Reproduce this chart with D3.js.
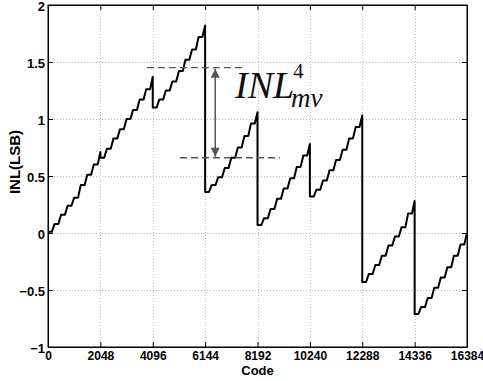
<!DOCTYPE html>
<html>
<head>
<meta charset="utf-8">
<script src="https://cdn.jsdelivr.net/npm/d3@7"></script>
<style>
  body { margin: 0; background: #fff; }
  svg { display: block; }
</style>
</head>
<body>
<div id="chart"></div>
<script>
// x ticks (codes) and y ticks (LSB)
const xTicks = [0, 2048, 4096, 6144, 8192, 10240, 12288, 14336, 16384];
const yTicks = [-1, -0.5, 0, 0.5, 1, 1.5, 2];

// each 2048-code segment: start code + 9 step levels
const segStarts = [0, 2048, 4096, 6144, 8192, 10240, 12288, 14336];
const stepLevels = [
  [0.01, 0.08, 0.16, 0.24, 0.31, 0.42, 0.51, 0.60, 0.71],
  [0.66, 0.74, 0.83, 0.91, 1.00, 1.08, 1.17, 1.26, 1.37],
  [1.10, 1.17, 1.25, 1.33, 1.42, 1.52, 1.61, 1.72, 1.82],
  [0.36, 0.42, 0.49, 0.57, 0.66, 0.75, 0.85, 0.96, 1.06],
  [0.07, 0.13, 0.21, 0.30, 0.39, 0.48, 0.58, 0.68, 0.78],
  [0.32, 0.38, 0.46, 0.55, 0.64, 0.73, 0.83, 0.93, 1.03],
  [-0.43, -0.36, -0.28, -0.20, -0.11, -0.03, 0.05, 0.17, 0.28],
  [-0.71, -0.65, -0.57, -0.48, -0.39, -0.30, -0.20, -0.10, 0.00]
];
const stepCodes = 256;

// annotation (data units)
const upperRef = { from: 3865, to: 7620, value: 1.45 };
const lowerRef = { from: 5160, to: 9070, value: 0.66 };
const arrowCode = 6540;

const width = 483, height = 381;
const margin = {top: 5, right: 16, bottom: 34, left: 48};

const svg = d3.select('#chart').append('svg')
    .attr('width', width)
    .attr('height', height);

const x = d3.scaleLinear()
  .domain([0, 16384])
  .range([margin.left, width - margin.right]);

const y = d3.scaleLinear()
  .domain([-1, 2])
  .range([height - margin.bottom, margin.top]);

const font = '"Liberation Sans", Arial, sans-serif';

// grid
svg.append('g')
    .attr('stroke', '#b8b8b8')
    .attr('stroke-width', 1)
    .attr('stroke-dasharray', '1,2')
  .selectAll('line.gx')
  .data(xTicks.slice(1, -1))
  .join('line')
    .attr('x1', d => Math.round(x(d)) + 0.5)
    .attr('x2', d => Math.round(x(d)) + 0.5)
    .attr('y1', y(-1))
    .attr('y2', y(2));

svg.append('g')
    .attr('stroke', '#b8b8b8')
    .attr('stroke-width', 1)
    .attr('stroke-dasharray', '1,2')
  .selectAll('line')
  .data(yTicks.slice(1, -1))
  .join('line')
    .attr('x1', x(0))
    .attr('x2', x(16384))
    .attr('y1', d => Math.round(y(d)) + 0.5)
    .attr('y2', d => Math.round(y(d)) + 0.5);

// axes (ticks pointing inwards, on all four sides)
const xAxis = g => g
    .attr('transform', `translate(0,${y(-1)})`)
    .call(d3.axisBottom(x).tickValues(xTicks).tickSizeInner(-5).tickSizeOuter(0).tickPadding(4).tickFormat(d3.format('d')))
    .call(g => g.selectAll('text').attr('font-size', 12).attr('font-weight', 'bold').attr('font-family', font).attr('fill', '#000'));

const yAxis = g => g
    .attr('transform', `translate(${x(0)},0)`)
    .call(d3.axisLeft(y).tickValues(yTicks).tickSizeInner(-5).tickSizeOuter(0).tickPadding(3).tickFormat(d3.format('')))
    .call(g => g.selectAll('text').attr('font-size', 13).attr('font-weight', 'bold').attr('font-family', font).attr('fill', '#000').attr('dy', '0.45em'));

svg.append('g').call(xAxis);
svg.append('g').call(yAxis);

svg.append('g')
    .attr('transform', `translate(0,${y(2)})`)
    .call(d3.axisTop(x).tickValues(xTicks).tickSizeInner(-5).tickSizeOuter(0).tickFormat(''));
svg.append('g')
    .attr('transform', `translate(${x(16384)},0)`)
    .call(d3.axisRight(y).tickValues(yTicks).tickSizeInner(-5).tickSizeOuter(0).tickFormat(''));

svg.append('rect')
    .attr('x', x(0))
    .attr('y', y(2))
    .attr('width', x(16384) - x(0))
    .attr('height', y(-1) - y(2))
    .attr('fill', 'none')
    .attr('stroke', '#000')
    .attr('stroke-width', 1);

// axis titles
svg.append('text')
    .attr('x', (x(0) + x(16384)) / 2)
    .attr('y', 375)
    .attr('text-anchor', 'middle')
    .attr('font-family', font)
    .attr('font-weight', 'bold')
    .attr('font-size', 13)
    .text('Code');

svg.append('text')
    .attr('transform', 'translate(20,162) rotate(-90)')
    .attr('text-anchor', 'middle')
    .attr('font-family', font)
    .attr('font-weight', 'bold')
    .attr('font-size', 15)
    .text('INL(LSB)');

// staircase INL curve
const points = [];
segStarts.forEach((c0, s) => {
  const L = stepLevels[s];
  points.push([c0, L[0]]);
  for (let k = 0; k < 8; k++) {
    points.push([c0 + k * stepCodes + 150, L[k]]);
    points.push([c0 + (k + 1) * stepCodes, L[k + 1]]);
  }
});

const line = d3.line()
  .x(d => x(d[0]))
  .y(d => y(d[1]));

svg.append('path')
    .datum(points)
    .attr('fill', 'none')
    .attr('stroke', '#000')
    .attr('stroke-width', 2)
    .attr('stroke-linejoin', 'round')
    .attr('d', line);

// annotation
const grey = '#555';
[upperRef, lowerRef].forEach(r => {
  svg.append('line')
      .attr('x1', x(r.from))
      .attr('x2', x(r.to))
      .attr('y1', y(r.value))
      .attr('y2', y(r.value))
      .attr('stroke', grey)
      .attr('stroke-width', 1.3)
      .attr('stroke-dasharray', '7,4');
});

svg.append('defs').append('marker')
    .attr('id', 'head')
    .attr('viewBox', '0 0 10 10')
    .attr('refX', 10)
    .attr('refY', 5)
    .attr('markerUnits', 'userSpaceOnUse')
    .attr('markerWidth', 10)
    .attr('markerHeight', 9)
    .attr('orient', 'auto-start-reverse')
  .append('path')
    .attr('d', 'M0,0 L10,5 L0,10 Z')
    .attr('fill', grey);

svg.append('line')
    .attr('x1', x(arrowCode))
    .attr('x2', x(arrowCode))
    .attr('y1', y(upperRef.value) + 1)
    .attr('y2', y(lowerRef.value) - 1)
    .attr('stroke', grey)
    .attr('stroke-width', 1.5)
    .attr('marker-start', 'url(#head)')
    .attr('marker-end', 'url(#head)');

const serif = '"Liberation Serif", "Times New Roman", serif';
const label = svg.append('g').attr('font-family', serif).attr('fill', '#111');
label.append('text')
    .attr('x', 235)
    .attr('y', 98)
    .attr('font-size', 38)
    .attr('font-style', 'italic')
    .text('INL');
label.append('text')
    .attr('x', 293)
    .attr('y', 78)
    .attr('font-size', 21)
    .text('4');
label.append('text')
    .attr('x', 291)
    .attr('y', 107)
    .attr('font-size', 27)
    .attr('font-style', 'italic')
    .text('mv');
</script>
</body>
</html>
